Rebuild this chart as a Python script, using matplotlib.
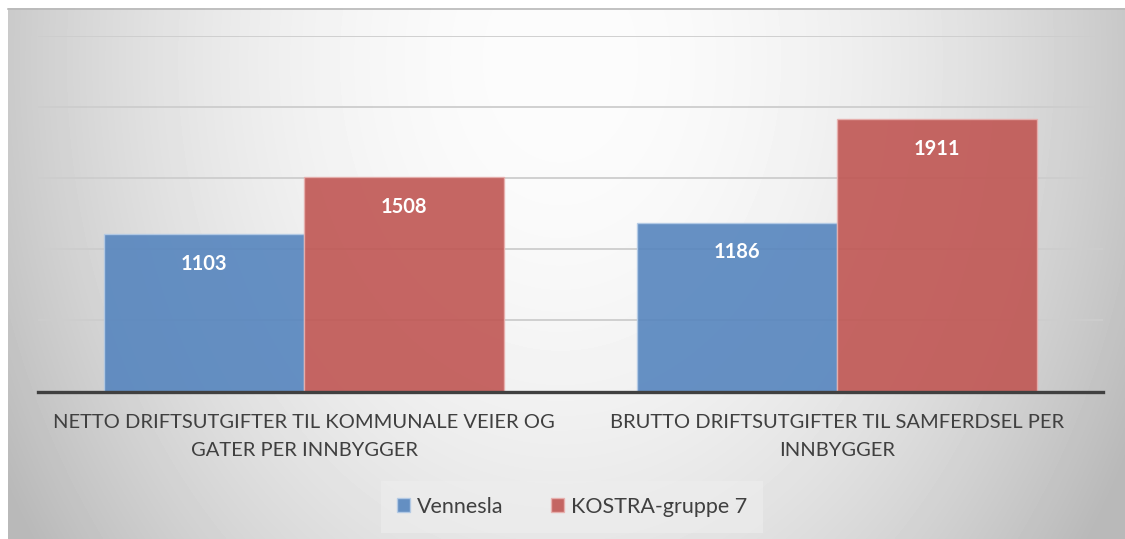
import matplotlib
matplotlib.use('Agg')
import matplotlib.pyplot as plt
import numpy as np
from matplotlib.patches import Patch

# chart data
categories = ['NETTO DRIFTSUTGIFTER TIL KOMMUNALE VEIER OG\nGATER PER INNBYGGER',
              'BRUTTO DRIFTSUTGIFTER TIL SAMFERDSEL PER\nINNBYGGER']
vennesla = [1103, 1186]
kostra = [1508, 1911]
series_names = ['Vennesla', 'KOSTRA-gruppe 7']
y_ticks = [500, 1000, 1500, 2000, 2500]

plt.rcParams['font.family'] = ['Lato', 'DejaVu Sans']

W, H = 1125, 539
fig = plt.figure(figsize=(W / 100, H / 100), dpi=100)
fig.patch.set_facecolor('white')

# radial grey background of the chart area
xs = np.arange(8, W)
ys = np.arange(8, H)
X, Y = np.meshgrid(xs, ys)
r = np.sqrt((X - 560) ** 2 + ((Y - 60) * 0.76) ** 2)
v = np.clip(252 - 55 * (r / 580) ** 2, 185, 252)
bg = fig.add_axes([8 / W, 0, (W - 8) / W, (H - 8) / H], zorder=-10)
bg.imshow(v, cmap='gray', vmin=0, vmax=255, aspect='auto', interpolation='bilinear')
bg.axis('off')
fig.add_artist(plt.Line2D([8 / W, 1], [1 - 8.5 / H, 1 - 8.5 / H], color='#b8b8b8', lw=1.2))

ax = fig.add_axes([38 / W, 1 - 391.5 / H, 1065 / W, 356 / H])
ax.patch.set_alpha(0)
ax.set_xlim(-0.5, 1.5)
ax.set_ylim(0, 2500)
ax.set_yticks(y_ticks)
ax.set_axisbelow(True)
ax.yaxis.grid(True, color='#cdcdcd', lw=1.3)
ax.tick_params(axis='y', length=0, labelleft=False)
for s in ['top', 'left', 'right']:
    ax.spines[s].set_visible(False)
ax.spines['bottom'].set_color('#404040')
ax.spines['bottom'].set_linewidth(2.4)

x = np.arange(len(categories))
w = 0.376
b1 = ax.bar(x - w / 2, vennesla, w, color='#5685be', alpha=0.9, edgecolor='#b4cbe6', lw=1)
b2 = ax.bar(x + w / 2, kostra, w, color='#c05653', alpha=0.9, edgecolor='#e8b0ae', lw=1)

for bars in (b1, b2):
    for rect in bars:
        ax.annotate(str(int(rect.get_height())),
                    (rect.get_x() + rect.get_width() / 2, rect.get_height()),
                    xytext=(0, -21.5), textcoords='offset points',
                    ha='center', va='center', color='white',
                    fontsize=14.5, fontweight='bold')

ax.set_xticks(x)
ax.set_xticklabels(categories, fontsize=14.5, color='#404040', linespacing=1.8)
ax.tick_params(axis='x', length=0, pad=16)

handles = [Patch(facecolor='#5685be', alpha=0.9, edgecolor='#b4cbe6'),
           Patch(facecolor='#c05653', alpha=0.9, edgecolor='#e8b0ae')]
leg = fig.legend(handles, series_names, loc='center', bbox_to_anchor=(572 / W, 1 - 507 / H),
                 ncol=2, frameon=True, fontsize=15.5, handlelength=0.62, handleheight=0.62,
                 handletextpad=0.3, columnspacing=2.2, borderpad=0.75, fancybox=False,
                 labelcolor='#404040')
leg.get_frame().set_facecolor('#eeeeee')
leg.get_frame().set_alpha(0.6)
leg.get_frame().set_edgecolor('none')

fig.savefig('out.png', dpi=100)
